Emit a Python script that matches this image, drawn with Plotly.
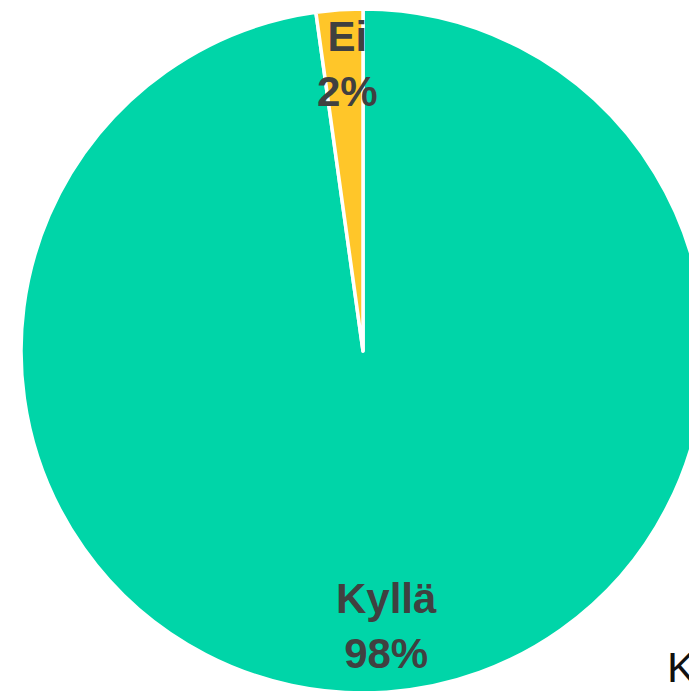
import plotly.graph_objects as go
import math

labels = ["Kyllä", "Ei"]
values = [97.8, 2.2]
colors = ["#00D5A8", "#FFC629"]
legend_text = "Kyllä"

W, H = 697, 691
# pie domain (paper fractions)
dom_x = [13 / 697, 1.0]
dom_y = [6 / 691, 1.0 - 1 / 691]

fig = go.Figure(go.Pie(
    labels=labels,
    values=values,
    sort=False,
    direction="clockwise",
    rotation=0,
    marker=dict(colors=colors, line=dict(color="white", width=3.5)),
    textinfo="none",
    hoverinfo="label+percent",
    domain=dict(x=dom_x, y=dom_y),
    showlegend=False,
))

# compute label positions from the data (slices run clockwise from 12 o'clock)
cx = (dom_x[0] + dom_x[1]) / 2 * W
cy_up = (dom_y[0] + dom_y[1]) / 2 * H
r = min((dom_x[1] - dom_x[0]) * W, (dom_y[1] - dom_y[0]) * H) / 2
total = sum(values)
start = 0.0
annotations = []
for lab, v in zip(labels, values):
    frac = v / total
    mid = start + frac / 2
    ang = mid * 2 * math.pi
    dist = 0.825 * r
    px = cx + dist * math.sin(ang)
    py = cy_up + dist * math.cos(ang)
    annotations.append(dict(
        x=px / W, y=py / H, xref="paper", yref="paper",
        text=f"<b>{lab}</b><br><b>{round(frac * 100)}%</b>",
        showarrow=False, xanchor="center", yanchor="middle", xshift=4, yshift=6,
        font=dict(family="Liberation Sans, Arial, sans-serif", size=42, color="#404040"),
    ))
    start += frac

annotations.append(dict(
    x=657 / W, y=1 - 659 / H, xref="paper", yref="paper",
    text=legend_text, showarrow=False, xanchor="left", yanchor="middle",
    font=dict(family="Liberation Sans, Arial, sans-serif", size=43, color="#111111"),
))

fig.update_layout(
    width=W, height=H,
    margin=dict(l=0, r=0, t=0, b=0),
    paper_bgcolor="white",
    plot_bgcolor="white",
    annotations=annotations,
)

fig.write_html("out.html")
